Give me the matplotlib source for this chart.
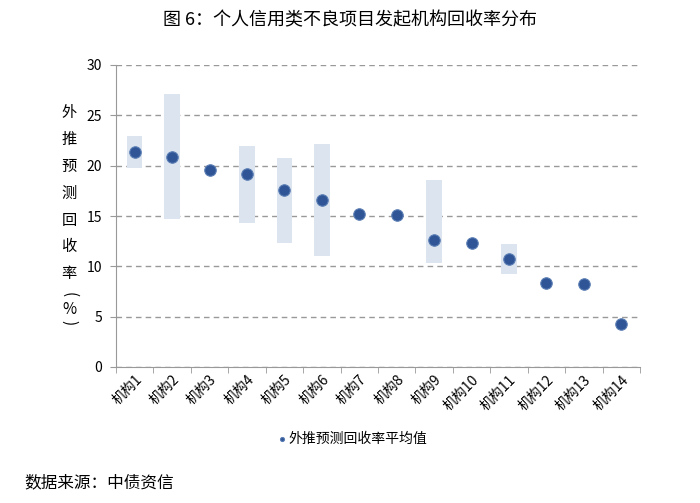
import numpy as np
import matplotlib.pyplot as plt

plt.rcParams['font.family'] = ['Noto Sans CJK SC', 'DejaVu Sans']

# data
orgs = ['机构%d' % i for i in range(1, 15)]
avg_rate = [21.35, 20.9, 19.6, 19.2, 17.55, 16.6, 15.2, 15.1, 12.6, 12.35, 10.7, 8.35, 8.25, 4.25]
range_low = [19.8, 14.7, None, 14.35, 12.3, 11.0, None, None, 10.3, None, 9.2, None, None, None]
range_high = [22.9, 27.1, None, 21.95, 20.75, 22.2, None, None, 18.6, None, 12.2, None, None, None]

fig = plt.figure(figsize=(7, 5.03), dpi=100)
ax = fig.add_axes([116 / 700, 1 - 367 / 503, 524 / 700, 302 / 503])

x = np.arange(len(orgs))
for i in x:
    if range_low[i] is not None:
        ax.bar(i, range_high[i] - range_low[i], bottom=range_low[i], width=0.41,
               color='#dce4ef', zorder=2)
ax.scatter(x, avg_rate, s=68, color='#2f5597', edgecolor='#5a7db3', linewidth=0.8,
           zorder=3, label='外推预测回收率平均值')

ax.set_xlim(-0.5, len(orgs) - 0.5)
ax.set_ylim(0, 30)
ax.set_yticks(range(0, 31, 5))
ax.set_xticks(x)
ax.set_xticklabels(orgs, rotation=45, ha='right', rotation_mode='anchor', fontsize=10)
ax.set_xticks(np.arange(-0.5, len(orgs), 1), minor=True)
ax.tick_params(axis='x', which='major', length=0, pad=4)
ax.tick_params(axis='x', which='minor', length=4, color='#999999', direction='out')
ax.tick_params(axis='y', length=4, color='#999999', labelsize=10, pad=6)

ax.yaxis.grid(True, linestyle=(0, (4, 3)), color='#999999', linewidth=1)
ax.set_axisbelow(True)
for s in ['top', 'right']:
    ax.spines[s].set_visible(False)
for s in ['left', 'bottom']:
    ax.spines[s].set_color('#999999')

# vertical y label, one char per line
ylab = ['外', '推', '预', '测', '回', '收', '率']
for k, ch in enumerate(ylab):
    fig.text(69 / 700, 1 - (113 + k * 26.8) / 503, ch, ha='center', va='center', fontsize=11)
fig.text(69 / 700, 1 - 295 / 503, '(', ha='center', va='center', fontsize=11, rotation=-90)
fig.text(69 / 700, 1 - 310 / 503, '%', ha='center', va='center', fontsize=11)
fig.text(69 / 700, 1 - 323 / 503, ')', ha='center', va='center', fontsize=11, rotation=-90)

ax.legend(loc='upper center', bbox_to_anchor=(0.45, -0.174), frameon=False, fontsize=10,
          markerscale=0.35, handletextpad=0.1, handlelength=0.8)

fig.text(0.5, 1 - 20 / 503, '图 6：个人信用类不良项目发起机构回收率分布', ha='center', va='center',
         fontsize=13)
fig.text(24 / 700, 1 - 483 / 503, '数据来源：中债资信', ha='left', va='center', fontsize=12)

fig.savefig('out.png', dpi=100)
